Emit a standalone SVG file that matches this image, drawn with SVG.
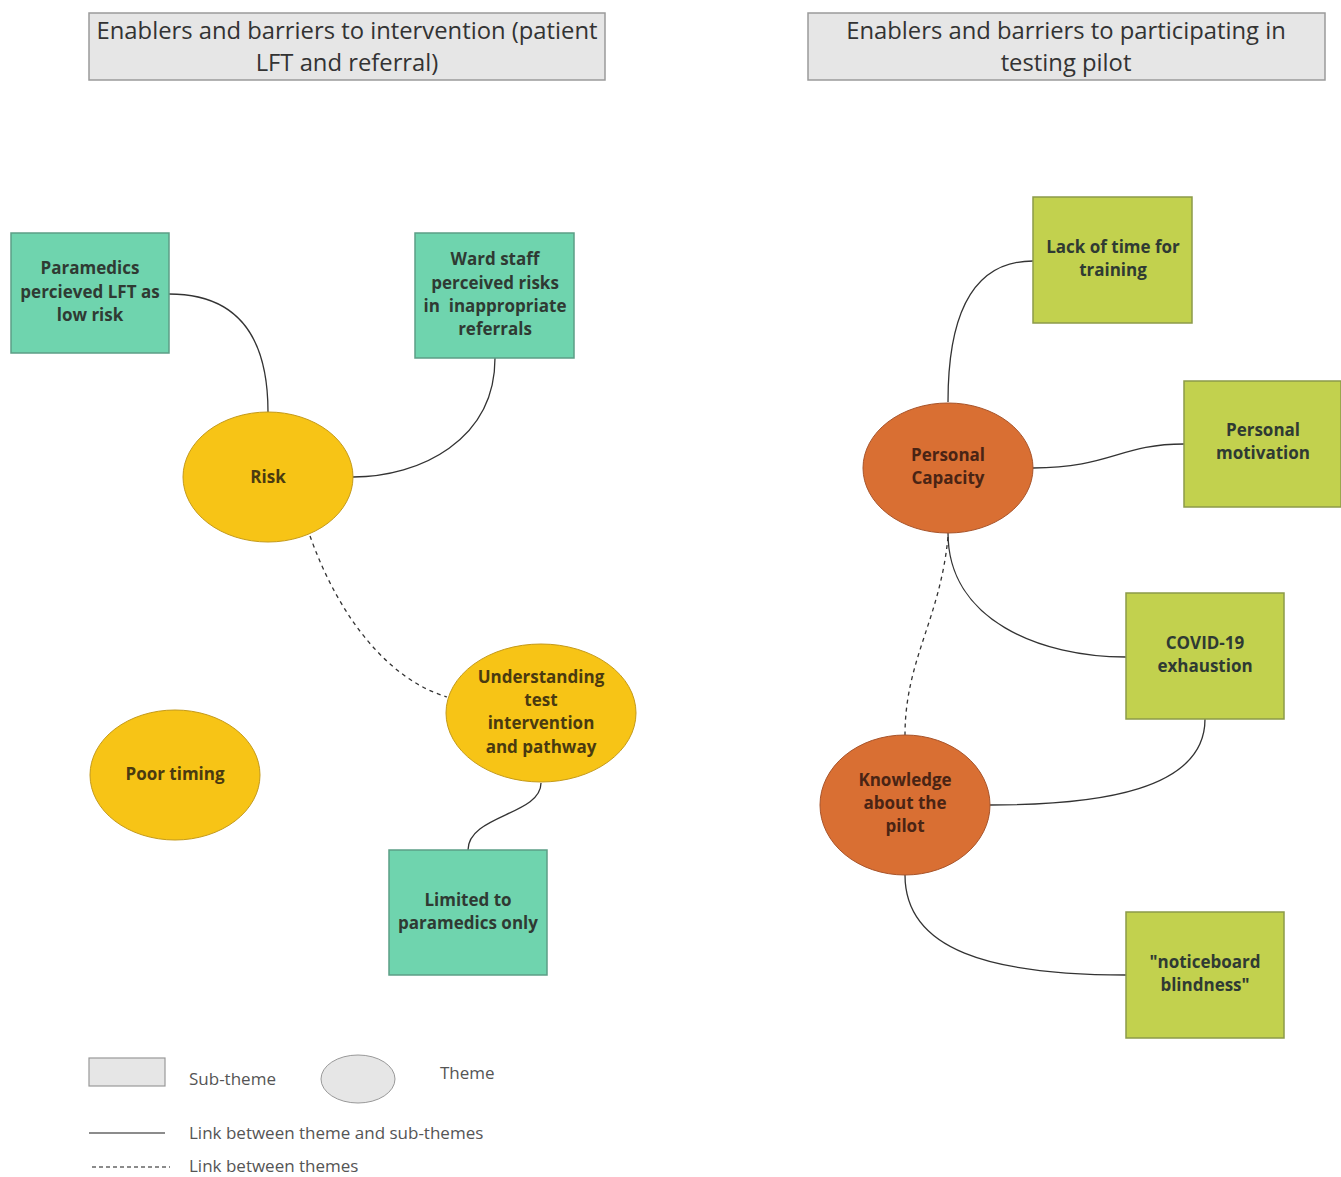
<svg xmlns="http://www.w3.org/2000/svg" width="1341" height="1177" viewBox="0 0 1341 1177">
<defs>
<style>
.title{fill:#e6e6e6;stroke:#9a9a9a;stroke-width:1.5}
.tt{font-family:"Open Sans","Liberation Sans",sans-serif;font-size:23.8px;fill:#333;text-anchor:middle}
.sub{fill:#6fd4ae;stroke:#5c9e86;stroke-width:1.5}
.sub2{fill:#c2d14e;stroke:#8c9a4a;stroke-width:1.5}
.th{fill:#f7c416;stroke:#c49a1a;stroke-width:1}
.th2{fill:#d96f33;stroke:#a8542a;stroke-width:1}
.nt{font-family:"Open Sans","Liberation Sans",sans-serif;font-size:17px;font-weight:bold;fill:#2f3a33;text-anchor:middle}
.nt2{font-family:"Open Sans","Liberation Sans",sans-serif;font-size:17px;font-weight:bold;fill:#4a2414;text-anchor:middle}
.nt3{font-family:"Open Sans","Liberation Sans",sans-serif;font-size:17px;font-weight:bold;fill:#4a3a10;text-anchor:middle}
.link{fill:none;stroke:#333;stroke-width:1.3}
.dash{fill:none;stroke:#333;stroke-width:1.3;stroke-dasharray:4 4}
.lg{font-family:"Open Sans","Liberation Sans",sans-serif;font-size:17px;fill:#555}
</style>
</defs>
<rect width="1341" height="1177" fill="#fff"/>

<g id="title1">
<rect class="title" x="89" y="13" width="516" height="67"/>
<text class="tt" x="347" y="39">Enablers and barriers to intervention (patient</text>
<text class="tt" x="347" y="71">LFT and referral)</text>
</g>
<g id="title2">
<rect class="title" x="808" y="13" width="517" height="67"/>
<text class="tt" x="1066" y="39">Enablers and barriers to participating in</text>
<text class="tt" x="1066" y="71">testing pilot</text>
</g>

<g id="connectors">
<path class="link" d="M169,294 C240,294 268,340 268,412"/>
<path class="link" d="M495,358 C495,440 420,477 353,477"/>
<path class="dash" d="M310,536 C340,620 390,680 447,697"/>
<path class="link" d="M541,783 C541,815 468,815 468,850"/>
<path class="link" d="M1033,261 C970,261 948,320 948,402"/>
<path class="link" d="M1033,468 C1110,468 1120,444 1184,444"/>
<path class="link" d="M948,533 C948,620 1040,657 1126,657"/>
<path class="dash" d="M948,537 C940,620 905,660 905,735"/>
<path class="link" d="M1205,719 C1205,790 1100,805 990,805"/>
<path class="link" d="M905,875 C905,950 990,975 1126,975"/>
</g>

<g id="paramedics">
<rect class="sub" x="11" y="233" width="158" height="120"/>
<text class="nt" x="90" y="274">Paramedics</text>
<text class="nt" x="90" y="298">percieved LFT as</text>
<text class="nt" x="90" y="321">low risk</text>
</g>
<g id="ward">
<rect class="sub" x="415" y="233" width="159" height="125"/>
<text class="nt" x="495" y="265">Ward staff</text>
<text class="nt" x="495" y="289">perceived risks</text>
<text class="nt" x="495" y="312" xml:space="preserve">in  inappropriate</text>
<text class="nt" x="495" y="335">referrals</text>
</g>
<g id="risk">
<ellipse class="th" cx="268" cy="477" rx="85" ry="65"/>
<text class="nt3" x="268" y="483">Risk</text>
</g>
<g id="understanding">
<ellipse class="th" cx="541" cy="713" rx="95" ry="69"/>
<text class="nt3" x="541" y="683">Understanding</text>
<text class="nt3" x="541" y="706">test</text>
<text class="nt3" x="541" y="729">intervention</text>
<text class="nt3" x="541" y="753">and pathway</text>
</g>
<g id="poortiming">
<ellipse class="th" cx="175" cy="775" rx="85" ry="65"/>
<text class="nt3" x="175" y="780">Poor timing</text>
</g>
<g id="limited">
<rect class="sub" x="389" y="850" width="158" height="125"/>
<text class="nt" x="468" y="906">Limited to</text>
<text class="nt" x="468" y="929">paramedics only</text>
</g>

<g id="lacktime">
<rect class="sub2" x="1033" y="197" width="159" height="126"/>
<text class="nt" x="1113" y="253">Lack of time for</text>
<text class="nt" x="1113" y="276">training</text>
</g>
<g id="motivation">
<rect class="sub2" x="1184" y="381" width="157" height="126"/>
<text class="nt" x="1263" y="436">Personal</text>
<text class="nt" x="1263" y="459">motivation</text>
</g>
<g id="capacity">
<ellipse class="th2" cx="948" cy="468" rx="85" ry="65"/>
<text class="nt2" x="948" y="461">Personal</text>
<text class="nt2" x="948" y="484">Capacity</text>
</g>
<g id="covid">
<rect class="sub2" x="1126" y="593" width="158" height="126"/>
<text class="nt" x="1205" y="649">COVID-19</text>
<text class="nt" x="1205" y="672">exhaustion</text>
</g>
<g id="knowledge">
<ellipse class="th2" cx="905" cy="805" rx="85" ry="70"/>
<text class="nt2" x="905" y="786">Knowledge</text>
<text class="nt2" x="905" y="809">about the</text>
<text class="nt2" x="905" y="832">pilot</text>
</g>
<g id="noticeboard">
<rect class="sub2" x="1126" y="912" width="158" height="126"/>
<text class="nt" x="1205" y="968">"noticeboard</text>
<text class="nt" x="1205" y="991">blindness"</text>
</g>

<g id="legend">
<rect x="89" y="1058" width="76" height="28" fill="#e6e6e6" stroke="#999" stroke-width="1.2"/>
<text class="lg" x="189" y="1085">Sub-theme</text>
<ellipse cx="358" cy="1079" rx="37" ry="24" fill="#e6e6e6" stroke="#999" stroke-width="1"/>
<text class="lg" x="440" y="1079">Theme</text>
<line x1="89" y1="1133" x2="165" y2="1133" stroke="#666" stroke-width="1.5"/>
<text class="lg" x="189" y="1139">Link between theme and sub-themes</text>
<line x1="92" y1="1167" x2="170" y2="1167" stroke="#666" stroke-width="1.3" stroke-dasharray="4 3"/>
<text class="lg" x="189" y="1172">Link between themes</text>
</g>
</svg>
